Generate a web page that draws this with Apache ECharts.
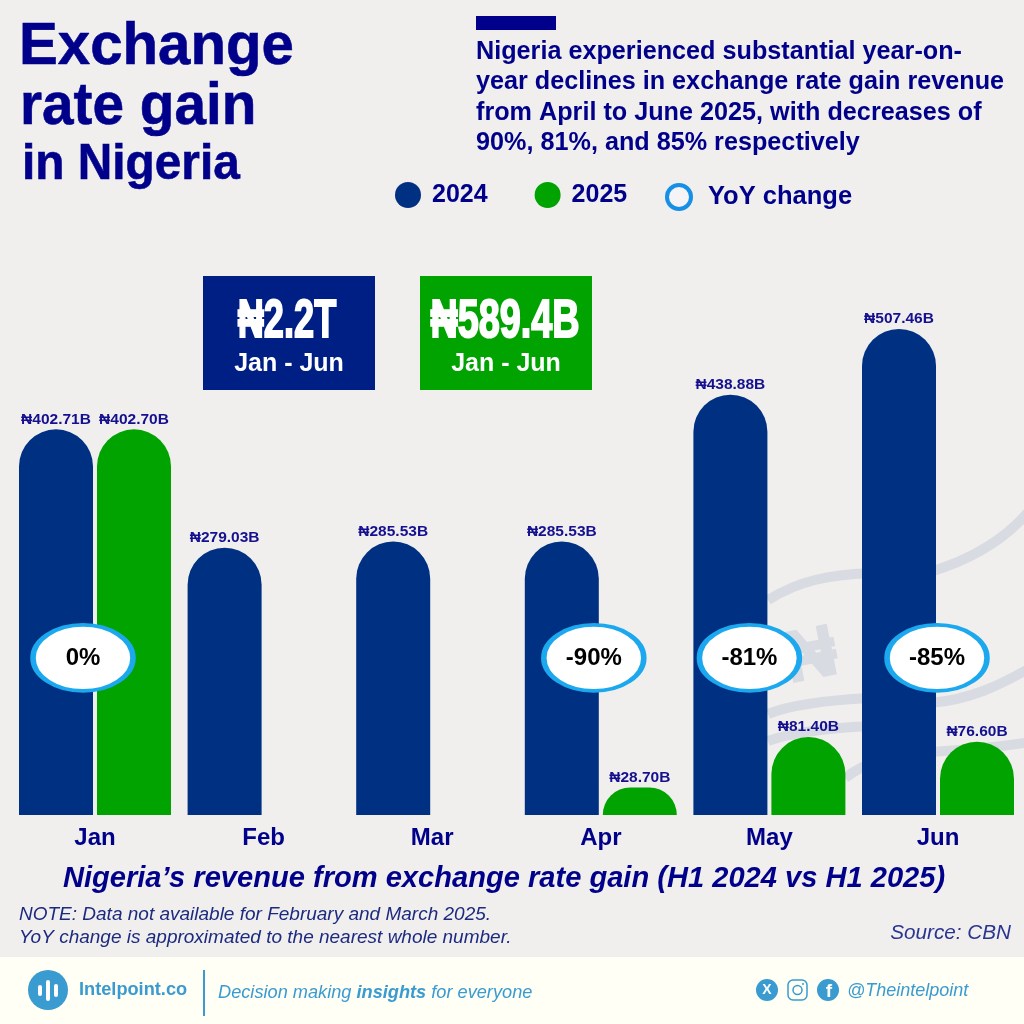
<!DOCTYPE html>
<html lang="en">
<head>
    <meta charset="UTF-8">
    <title>Exchange rate gain in Nigeria</title>
    <script src="https://cdn.jsdelivr.net/npm/echarts@6/dist/echarts.min.js"></script>
    <style>
        html, body { margin: 0; padding: 0; background: #f0efed; }
    </style>
</head>
<body>
<div id="main" style="width: 1024px;height:1024px;"></div>
<script type="text/javascript">
    var months = ['Jan', 'Feb', 'Mar', 'Apr', 'May', 'Jun'];
    var revenue2024 = [402.71, 279.03, 285.53, 285.53, 438.88, 507.46];
    var revenue2025 = [402.70, null, null, 28.70, 81.40, 76.60];
    var yoyChange = [0, null, null, -90, -81, -85];
    var titleLines = ['Exchange', 'rate gain', 'in Nigeria'];
    var introLines = [
        'Nigeria experienced substantial year-on-',
        'year declines in exchange rate gain revenue',
        'from April to June 2025, with decreases of',
        '90%, 81%, and 85% respectively'
    ];

    var sans = '"Liberation Sans", "DejaVu Sans", sans-serif';
    var navy = '#00008b';
    var barBlue = '#003082';
    var green = '#00a300';
    var sky = '#3a9bd0';
    var waterMark = '#d9dbe3';
    var yoyLevel = 164;
    var yoyShift = [-12, 0, 0, -7, -20, -1];

    var myChart = echarts.init(document.getElementById('main'));

    function txt(x, y, text, font, color, opts) {
        opts = opts || {};
        return {
            type: 'text', x: x, y: y, z: opts.z === undefined ? 10 : opts.z, scaleX: opts.scaleX || 1, rotation: opts.rotation || 0,
            silent: true,
            style: {
                text: text, font: font, fill: color, align: opts.align || 'left', verticalAlign: 'middle',
                stroke: opts.stroke || null, lineWidth: opts.stroke ? (opts.lineWidth || 1) : 0, rich: opts.rich
            }
        };
    }

    function box(x, y, w, h, color, opts) {
        opts = opts || {};
        return {
            type: 'rect', z: opts.z === undefined ? 5 : opts.z, silent: true,
            shape: {x: x, y: y, width: w, height: h, r: opts.r || 0},
            style: {fill: color, stroke: opts.stroke || null, lineWidth: opts.lineWidth || 0}
        };
    }

    function dot(cx, cy, r, color, opts) {
        opts = opts || {};
        return {
            type: 'circle', z: 10, silent: true, shape: {cx: cx, cy: cy, r: r},
            style: {fill: color, stroke: opts.stroke || null, lineWidth: opts.lineWidth || 0}
        };
    }

    function curve(x1, y1, c1x, c1y, c2x, c2y, x2, y2) {
        return {
            type: 'bezierCurve', z: -1, silent: true,
            shape: {x1: x1, y1: y1, cpx1: c1x, cpy1: c1y, cpx2: c2x, cpy2: c2y, x2: x2, y2: y2},
            style: {stroke: waterMark, lineWidth: 10, fill: null}
        };
    }

    var graphics = [
        // watermark behind the bars
        curve(768, 600, 800, 580, 830, 575, 870, 573),
        curve(930, 572, 970, 560, 1005, 540, 1030, 510),
        curve(768, 714, 790, 705, 830, 700, 870, 698),
        curve(930, 703, 970, 700, 1000, 685, 1030, 668),
        curve(768, 741, 790, 733, 830, 728, 870, 726),
        curve(930, 752, 960, 750, 1000, 747, 1030, 742),
        curve(845, 778, 850, 774, 855, 770, 870, 764),
        txt(811, 658, '₦', 'bold 72px ' + sans, waterMark, {align: 'center', rotation: 0.2, z: -1, stroke: waterMark, lineWidth: 2}),

        // title
        txt(19, 47, titleLines[0], 'bold 60px ' + sans, navy, {scaleX: 0.97, stroke: navy, lineWidth: 0.6}),
        txt(20, 107, titleLines[1], 'bold 60px ' + sans, navy, {scaleX: 0.945, stroke: navy, lineWidth: 0.6}),
        txt(22, 165, titleLines[2], 'bold 50px ' + sans, navy, {scaleX: 0.956, stroke: navy, lineWidth: 0.6}),

        // intro text
        box(476, 16, 80, 14, navy),
        txt(476, 52, introLines[0], 'bold 25px ' + sans, navy, {scaleX: 1.008}),
        txt(476, 82, introLines[1], 'bold 25px ' + sans, navy, {scaleX: 1.008}),
        txt(476, 113, introLines[2], 'bold 25px ' + sans, navy, {scaleX: 1.008}),
        txt(476, 143, introLines[3], 'bold 25px ' + sans, navy, {scaleX: 1.008}),

        // totals
        box(203, 276, 172, 114, '#001f85'),
        txt(287, 322, '₦2.2T', 'bold 54px ' + sans, '#fff', {align: 'center', scaleX: 0.67, stroke: '#fff', lineWidth: 2}),
        txt(289, 364, 'Jan - Jun', 'bold 25px ' + sans, '#fff', {align: 'center'}),
        box(420, 276, 172, 114, green),
        txt(505, 322, '₦589.4B', 'bold 54px ' + sans, '#fff', {align: 'center', scaleX: 0.7, stroke: '#fff', lineWidth: 2}),
        txt(506, 364, 'Jan - Jun', 'bold 25px ' + sans, '#fff', {align: 'center'}),

        // captions
        txt(504, 879, 'Nigeria’s revenue from exchange rate gain (H1 2024 vs H1 2025)', 'italic bold 29px ' + sans, navy, {align: 'center', scaleX: 1.003}),
        txt(19, 915, 'NOTE: Data not available for February and March 2025.', 'italic 19px ' + sans, '#1c2a80'),
        txt(19, 938, 'YoY change is approximated to the nearest whole number.', 'italic 19px ' + sans, '#1c2a80'),
        txt(1011, 933, 'Source: CBN', 'italic 20.7px ' + sans, '#2a3590', {align: 'right'}),

        // footer
        box(0, 957, 1024, 67, '#fffff6', {z: 1}),
        dot(48, 990, 20, sky),
        box(38, 985, 4, 11, '#fff', {z: 11, r: 2}),
        box(46, 980, 4, 21, '#fff', {z: 11, r: 2}),
        box(54, 984, 4, 13, '#fff', {z: 11, r: 2}),
        txt(79, 990, 'Intelpoint.co', 'bold 18.2px ' + sans, sky),
        box(203, 970, 2, 46, sky),
        txt(218, 993, '{n|Decision making }{b|insights}{n| for everyone}', '18px ' + sans, sky, {
            rich: {
                n: {font: 'italic 18.2px ' + sans, fill: sky},
                b: {font: 'italic bold 18.2px ' + sans, fill: sky}
            }
        }),
        dot(767, 990, 11, sky),
        txt(767, 990, 'X', 'bold 14px ' + sans, '#fff', {align: 'center'}),
        box(788, 980, 19, 20, 'none', {z: 10, r: 5, stroke: sky, lineWidth: 1.5}),
        dot(797.5, 990, 4.5, 'none', {stroke: sky, lineWidth: 1.5}),
        dot(803, 984, 1, sky),
        dot(828, 990, 11, sky),
        txt(829, 992, 'f', 'bold 19px ' + sans, '#fff', {align: 'center'}),
        txt(847, 991, '@Theintelpoint', 'italic 18px ' + sans, sky)
    ];

    var yoyData = [];
    for (var i = 0; i < months.length; i++) {
        if (yoyChange[i] !== null) {
            yoyData.push({value: [months[i], yoyLevel, yoyChange[i]], symbolOffset: [yoyShift[i], 0]});
        }
    }

    function moneyLabel(params) {
        return '₦' + params.value.toFixed(2) + 'B';
    }

    var barLabel = {
        show: true, position: 'top', distance: 2, color: '#14108f',
        fontFamily: sans, fontWeight: 'bold', fontSize: 15.5, formatter: moneyLabel
    };

    var legendText = {color: navy, fontWeight: 'bold', fontSize: 25, fontFamily: sans, padding: [4, 0, 0, 6]};

    var option = {
        backgroundColor: '#f0efed',
        animation: false,
        textStyle: {fontFamily: sans},
        // the ring sits closer to the 2025 entry than the two dots do to each other, so two legends
        legend: [
            {
                left: 395, top: 182, padding: 0, itemWidth: 26, itemHeight: 26, itemGap: 47, icon: 'circle',
                textStyle: legendText,
                data: ['2024', '2025']
            },
            {
                left: 665, top: 183, padding: 0, itemWidth: 24, itemHeight: 24, icon: 'circle',
                textStyle: {color: navy, fontWeight: 'bold', fontSize: 25.5, fontFamily: sans, padding: [0, 0, 0, 12]},
                data: [{name: 'YoY change', itemStyle: {color: '#f4f4f6', borderColor: '#1590e6', borderWidth: 4}}]
            }
        ],
        // 6 bands of 168.6px, 0.9577px per unit of value
        grid: {left: 10.7, width: 1011.6, top: 240.4, height: 574.6},
        xAxis: {
            type: 'category', data: months,
            axisLine: {show: false}, axisTick: {show: false},
            axisLabel: {color: navy, fontWeight: 'bold', fontSize: 24, fontFamily: sans, margin: 11}
        },
        yAxis: {type: 'value', min: 0, max: 600, show: false, splitLine: {show: false}},
        graphic: graphics,
        series: [
            {
                name: '2024', type: 'bar', data: revenue2024, barWidth: 74, barGap: '5.4%',
                itemStyle: {color: barBlue, borderRadius: [37, 37, 0, 0]}, label: barLabel, z: 2
            },
            {
                name: '2025', type: 'bar', data: revenue2025, barWidth: 74,
                itemStyle: {color: green, borderRadius: [37, 37, 0, 0]}, label: barLabel, z: 2
            },
            {
                name: 'YoY change', type: 'scatter', data: yoyData, symbol: 'circle', symbolSize: [100, 66], z: 6,
                itemStyle: {color: '#fff', borderColor: '#1ba8ee', borderWidth: 4.5, opacity: 1},
                label: {
                    show: true, position: 'inside', color: '#000', fontWeight: 'bold', fontSize: 24, fontFamily: sans,
                    formatter: function (params) { return params.value[2] + '%'; }
                }
            }
        ]
    };

    myChart.setOption(option);
</script>
</body>
</html>
